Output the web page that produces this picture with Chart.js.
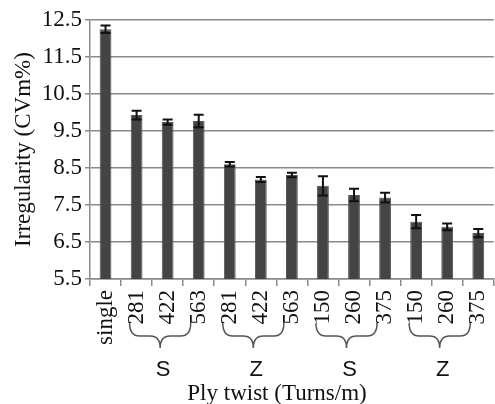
<!DOCTYPE html>
<html>
<head>
<meta charset="utf-8">
<script src="https://cdn.jsdelivr.net/npm/chart.js@4.4.1/dist/chart.umd.min.js"></script>
<style>
  html, body { margin: 0; padding: 0; background: #fff; overflow: hidden; }
  #wrap { width: 510px; height: 404px; }
</style>
</head>
<body>
<div id="wrap"><canvas id="chart" width="510" height="404"></canvas></div>
<script>
// ply twist levels (turns/m), first one is the single yarn
const categories = ['single', '281', '422', '563', '281', '422', '563', '150', '260', '375', '150', '260', '375'];
const irregularity = [12.25, 9.93, 9.74, 9.77, 8.6, 8.19, 8.31, 8.02, 7.77, 7.7, 7.05, 6.91, 6.74];
const errors = [0.1, 0.12, 0.07, 0.17, 0.06, 0.07, 0.06, 0.26, 0.17, 0.13, 0.18, 0.09, 0.11];
const yTicks = [5.5, 6.5, 7.5, 8.5, 9.5, 10.5, 11.5, 12.5];
// twist direction groups under the axis (category index ranges)
const groupFrom = [1, 4, 7, 10];
const groupTo = [3, 6, 9, 12];
const groupLetters = ['S', 'Z', 'S', 'Z'];
const xTitle = 'Ply twist (Turns/m)';

const serif = '"Liberation Serif", "Times New Roman", serif';
const gridGrey = '#8a8a8a';

// error bars drawn on top of each bar
const errorBarPlugin = {
  id: 'errorBars',
  afterDatasetsDraw(chart) {
    const meta = chart.getDatasetMeta(0);
    const y = chart.scales.y;
    const ctx = chart.ctx;
    ctx.save();
    ctx.strokeStyle = '#111';
    ctx.lineWidth = 2;
    meta.data.forEach((bar, i) => {
      const v = irregularity[i], e = errors[i];
      const top = y.getPixelForValue(v + e);
      const bot = y.getPixelForValue(v - e);
      ctx.beginPath();
      ctx.moveTo(bar.x, top); ctx.lineTo(bar.x, bot);
      ctx.moveTo(bar.x - 5, top); ctx.lineTo(bar.x + 5, top);
      ctx.moveTo(bar.x - 5, bot); ctx.lineTo(bar.x + 5, bot);
      ctx.stroke();
    });
    ctx.restore();
  }
};

// curly braces + S/Z letters + x title
const bracePlugin = {
  id: 'braces',
  afterDraw(chart) {
    const x = chart.scales.x;
    const ctx = chart.ctx;
    const yA = 323, yB = 336, yC = 348;
    ctx.save();
    ctx.strokeStyle = '#555';
    ctx.lineWidth = 1.5;
    groupFrom.forEach((from, g) => {
      const x0 = x.getPixelForValue(from) - 7;
      const x1 = x.getPixelForValue(groupTo[g]) - 8;
      const mid = (x0 + x1) / 2;
      ctx.beginPath();
      ctx.moveTo(x0, yA);
      ctx.quadraticCurveTo(x0, yB, x0 + 10, yB);
      ctx.lineTo(mid - 10, yB);
      ctx.quadraticCurveTo(mid, yB, mid, yC);
      ctx.quadraticCurveTo(mid, yB, mid + 10, yB);
      ctx.lineTo(x1 - 10, yB);
      ctx.quadraticCurveTo(x1, yB, x1, yA);
      ctx.stroke();
      ctx.fillStyle = '#111';
      ctx.font = '22px "Liberation Sans", Arial, sans-serif';
      ctx.textAlign = 'center';
      ctx.textBaseline = 'middle';
      ctx.fillText(groupLetters[g], mid + 3, 370);
    });
    ctx.fillStyle = '#111';
    ctx.font = '23px ' + serif;
    ctx.textAlign = 'center';
    ctx.textBaseline = 'alphabetic';
    ctx.fillText(xTitle, 277, 400);
    ctx.restore();
  }
};

new Chart(document.getElementById('chart'), {
  type: 'bar',
  data: {
    labels: categories,
    datasets: [{
      data: irregularity,
      backgroundColor: '#444444',
      borderColor: '#555555',
      borderWidth: 1,
      barPercentage: 0.38,
      categoryPercentage: 1
    }]
  },
  options: {
    responsive: false,
    animation: false,
    layout: { padding: { top: 20, right: 4, left: 0, bottom: 0 } },
    plugins: { legend: { display: false }, tooltip: { enabled: false } },
    scales: {
      y: {
        min: 5.5,
        max: 12.5,
        afterBuildTicks(scale) { scale.ticks = yTicks.map(v => ({ value: v })); },
        afterFit(scale) { scale.width = 90; },
        ticks: {
          color: '#111',
          font: { family: serif, size: 23 },
          padding: 3,
          callback: v => v.toFixed(1)
        },
        grid: { color: gridGrey, lineWidth: 1.5, tickLength: 5 },
        border: { color: gridGrey, width: 1.5 },
        title: {
          display: true,
          text: 'Irregularity (CVm%)',
          color: '#111',
          font: { family: serif, size: 23 },
          padding: { top: 10, bottom: 0 }
        }
      },
      x: {
        afterFit(scale) { scale.height = 125; },
        ticks: {
          color: '#111',
          font: { family: serif, size: 23 },
          minRotation: 90,
          maxRotation: 90,
          autoSkip: false,
          padding: 4
        },
        grid: { drawOnChartArea: false, color: gridGrey, lineWidth: 1.5, tickLength: 7 },
        border: { color: gridGrey, width: 1.5 }
      }
    }
  },
  plugins: [errorBarPlugin, bracePlugin]
});
</script>
</body>
</html>
